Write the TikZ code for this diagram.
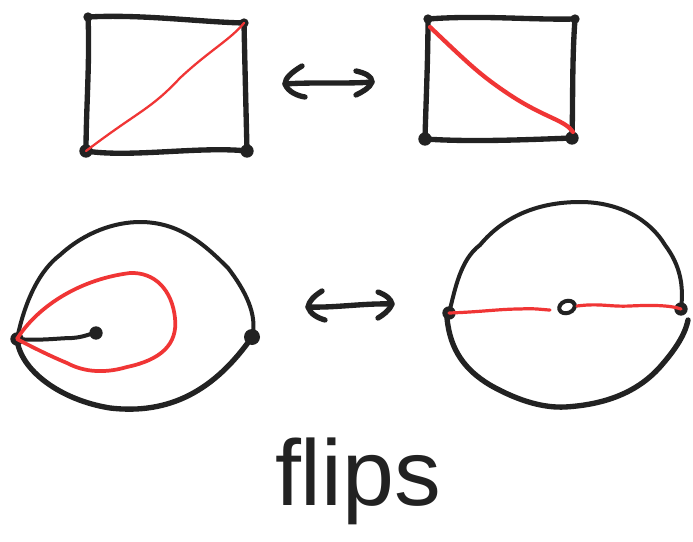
\documentclass[tikz,border=0pt]{standalone}
\usepackage{fontspec}
\setmainfont{Liberation Sans}
\usetikzlibrary{shapes.geometric}
\definecolor{inkc}{HTML}{222222}
\definecolor{redc}{HTML}{F03535}
\begin{document}
\begin{tikzpicture}[x=0.75pt,y=-0.75pt,
  ink/.style={draw=inkc, line width=4pt, line cap=round, line join=round},
  thinink/.style={draw=inkc, line width=3pt, line cap=round, line join=round},
  redl/.style={draw=redc, line width=2.4pt, line cap=round, line join=round},
  vdot/.style={circle, fill=inkc, inner sep=0pt, minimum size=7pt},
  bigdot/.style={circle, fill=inkc, inner sep=0pt, minimum size=10pt},
  labeltext/.style={font=\fontsize{70}{80}\selectfont, text=inkc, inner sep=0pt}
]
\useasboundingbox[fill=white] (0,0) rectangle (693,542);

% ---------- top-left square ----------
\node[vdot] (a1) at (88,17) {};
\node[vdot] (a2) at (244,23) {};
\node[bigdot] (a3) at (247,151) {};
\node[bigdot] (a4) at (86,151) {};
\draw[ink] (a1.center) .. controls (140,14) and (200,22) .. (a2.center)
  .. controls (245,70) and (246,110) .. (a3.center)
  .. controls (200,146) and (130,158) .. (a4.center)
  .. controls (86,110) and (90,60) .. (a1.center);
\draw[redl, line width=1.7pt] (a4.center) .. controls (140,110) and (150,110) .. (180,78)
  .. controls (210,50) and (230,40) .. (a2.center);

% ---------- top-right square ----------
\node[vdot] (b1) at (428,19) {};
\node[vdot] (b2) at (575,19) {};
\node[bigdot] (b3) at (572,138) {};
\node[bigdot] (b4) at (425,139) {};
\draw[ink] (b1.center) .. controls (480,15) and (530,20) .. (b2.center)
  .. controls (572,60) and (573,100) .. (b3.center)
  .. controls (520,140) and (470,142) .. (b4.center)
  .. controls (426,100) and (428,60) .. (b1.center);
\draw[redl, line width=3.2pt] (430,27) .. controls (470,65) and (480,75) .. (510,95)
  .. controls (545,118) and (565,120) .. (573,132);

% ---------- top arrow ----------
\coordinate (ta1) at (285,84);
\coordinate (ta2) at (372,82);
\draw[ink] (ta1) .. controls (310,82) and (350,84) .. (ta2);
\draw[ink] (302,66) .. controls (292,72) and (285,78) .. (ta1) .. controls (288,92) and (298,96) .. (305,97);
\draw[ink] (356,71) .. controls (365,73) and (372,76) .. (ta2) .. controls (370,88) and (362,92) .. (356,95);

% ---------- bottom-left shape ----------
\node[bigdot] (cL) at (17,339) {};
\node[bigdot, minimum size=12pt] (cR) at (252,337) {};
\node[bigdot] (cC) at (96,333) {};
\draw[thinink] (cL.center) .. controls (25,300) and (40,270) .. (60,255)
  .. controls (85,232) and (115,222) .. (140,222)
  .. controls (180,222) and (205,245) .. (228,268)
  .. controls (245,290) and (258,315) .. (cR.center);
\draw[ink] (cL.center) .. controls (20,370) and (60,400) .. (110,408)
  .. controls (170,415) and (215,390) .. (cR.center);
\draw[thinink] (cL.center) .. controls (40,341) and (60,338) .. (72,338)
  .. controls (85,337) and (88,334) .. (cC.center);
\draw[redl, line width=2.8pt] (cL.center) .. controls (35,310) and (75,280) .. (130,273)
  .. controls (155,272) and (172,290) .. (175,318)
  .. controls (178,345) and (160,360) .. (127,367)
  .. controls (100,375) and (80,370) .. (67,363)
  .. controls (50,356) and (30,346) .. (cL.center);

% ---------- bottom arrow ----------
\coordinate (ba1) at (308,307);
\coordinate (ba2) at (392,304);
\draw[ink] (ba1) .. controls (335,308) and (365,303) .. (ba2);
\draw[ink] (322,291) .. controls (314,296) and (309,301) .. (ba1) .. controls (310,314) and (318,318) .. (325,320);
\draw[ink] (378,292) .. controls (386,295) and (391,299) .. (ba2) .. controls (389,311) and (383,315) .. (378,318);

% ---------- bottom-right shape ----------
\node[bigdot] (dL) at (449,313) {};
\node[bigdot] (dR) at (681,309) {};
\node[draw=inkc, line width=3pt, ellipse, inner sep=0pt, minimum width=12pt, minimum height=9pt, rotate=20] (dC) at (567,307) {};
\draw[thinink] (dL.center) .. controls (455,290) and (460,260) .. (480,245)
  .. controls (505,215) and (540,202) .. (580,202)
  .. controls (620,202) and (650,220) .. (665,245)
  .. controls (680,265) and (684,285) .. (dR.center);
\draw[ink] (447,318) .. controls (450,350) and (465,370) .. (490,385)
  .. controls (520,402) and (545,408) .. (565,407)
  .. controls (600,405) and (635,395) .. (660,367)
  .. controls (675,350) and (685,335) .. (688,320);
\draw[redl] (dL.center) .. controls (480,312) and (500,309) .. (520,309)
  .. controls (535,308) and (545,310) .. (550,310);
\draw[redl] (577,306) .. controls (600,303) and (610,307) .. (630,306)
  .. controls (650,305) and (670,305) .. (dR.center);

% ---------- label ----------
\node[labeltext, anchor=base] (lbl) at (358,505) {flips};
\end{tikzpicture}
\end{document}
